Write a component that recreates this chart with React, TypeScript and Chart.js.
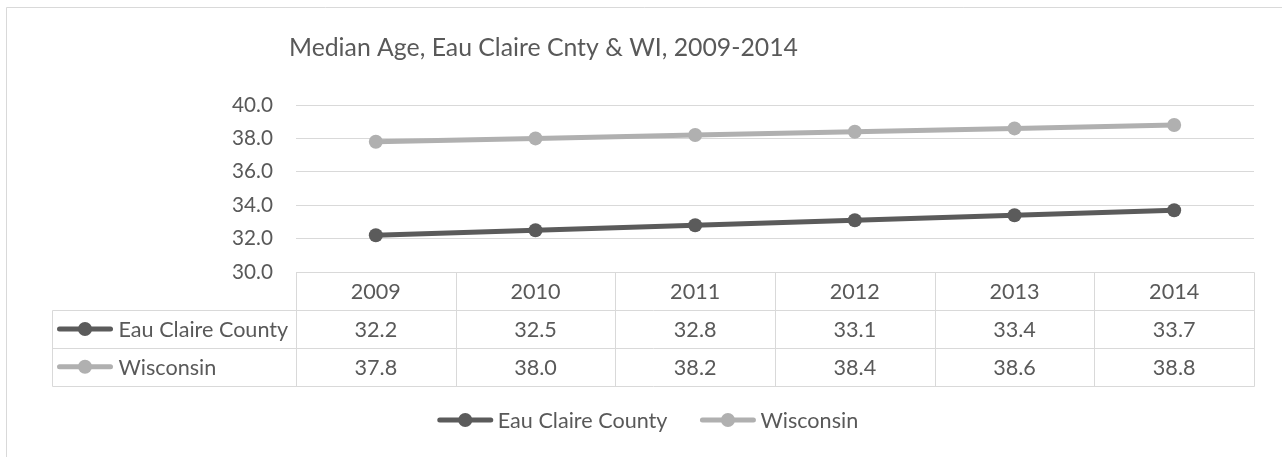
import React, { useEffect, useRef } from "react";
import { Chart, registerables } from "chart.js";

Chart.register(...registerables);

const categories = ["2009", "2010", "2011", "2012", "2013", "2014"];
const eauClaireValues = [32.2, 32.5, 32.8, 33.1, 33.4, 33.7];
const wisconsinValues = [37.8, 38.0, 38.2, 38.4, 38.6, 38.8];
const seriesNames = ["Eau Claire County", "Wisconsin"];
const titleText = "Median Age, Eau Claire Cnty & WI, 2009-2014";
const yMin = 30;
const yMax = 40;
const yStep = 2;

const FAMILY = "Lato";
const TEXT = "#595959";
const GRID = "#d9d9d9";
const DARK = "#5b5b5b";
const LIGHT = "#b0b0b0";
const W = 1282;
const H = 457;

function fitSize(text: string, target: number): number {
  const c = document.createElement("canvas").getContext("2d")!;
  c.font = `100px ${FAMILY}`;
  const w = c.measureText(text).width;
  return Math.round((100 * target) / w * 10) / 10;
}

const TITLE_SIZE = fitSize(titleText, 510);
const LABEL_SIZE = fitSize(seriesNames[0], 170);
const TICK_SIZE = fitSize("40.0", 41);

function drawMarker(ctx: CanvasRenderingContext2D, x0: number, y: number, color: string) {
  ctx.save();
  ctx.strokeStyle = color;
  ctx.fillStyle = color;
  ctx.lineWidth = 5;
  ctx.lineCap = "round";
  ctx.beginPath();
  ctx.moveTo(x0 + 2, y);
  ctx.lineTo(x0 + 53, y);
  ctx.stroke();
  ctx.beginPath();
  ctx.arc(x0 + 27.5, y, 7, 0, Math.PI * 2);
  ctx.fill();
  ctx.restore();
}

const decorPlugin = {
  id: "decor",
  beforeDraw(chart: any) {
    const ctx = chart.ctx as CanvasRenderingContext2D;
    ctx.save();
    ctx.fillStyle = "#ffffff";
    ctx.fillRect(0, 0, chart.width, chart.height);
    ctx.strokeStyle = GRID;
    ctx.lineWidth = 1;
    ctx.beginPath();
    ctx.moveTo(6.5, chart.height);
    ctx.lineTo(6.5, 7.5);
    ctx.lineTo(chart.width, 7.5);
    ctx.stroke();
    ctx.restore();
  },
  afterDraw(chart: any) {
    const ctx = chart.ctx as CanvasRenderingContext2D;
    const area = chart.chartArea;
    const xs = chart.scales.x;
    const n = categories.length;
    const half = (xs.getPixelForValue(1) - xs.getPixelForValue(0)) / 2;
    const top = Math.round(area.bottom) + 0.5;
    const rowH = 37.7;
    const labelLeft = 52.5;
    const L = Math.round(area.left) + 0.5;
    const R = Math.round(area.right) + 0.5;
    ctx.save();
    // title
    ctx.fillStyle = TEXT;
    ctx.font = `${TITLE_SIZE}px ${FAMILY}`;
    ctx.textAlign = "center";
    ctx.textBaseline = "alphabetic";
    ctx.fillText(titleText, 543.5, 56);

    // table lines
    ctx.strokeStyle = GRID;
    ctx.lineWidth = 1;
    ctx.beginPath();
    ctx.moveTo(L, top);
    ctx.lineTo(R, top);
    for (let r = 1; r <= 3; r++) {
      const y = Math.round(top + rowH * r) + 0.5;
      ctx.moveTo(labelLeft, y);
      ctx.lineTo(R, y);
    }
    const bottom = Math.round(top + rowH * 3) + 0.5;
    for (let i = 0; i <= n; i++) {
      const bx = i < n ? Math.round(xs.getPixelForValue(i) - half) + 0.5 : R;
      ctx.moveTo(bx, top);
      ctx.lineTo(bx, bottom);
    }
    ctx.moveTo(labelLeft, Math.round(top + rowH) + 0.5);
    ctx.lineTo(labelLeft, bottom);
    ctx.stroke();

    // table text
    ctx.fillStyle = TEXT;
    ctx.font = `${LABEL_SIZE}px ${FAMILY}`;
    ctx.textBaseline = "middle";
    ctx.textAlign = "center";
    const rowsVals = [eauClaireValues, wisconsinValues];
    for (let i = 0; i < n; i++) {
      const cx = xs.getPixelForValue(i);
      ctx.fillText(categories[i], cx, top + rowH * 0.5 + 1);
      rowsVals.forEach((vals, r) => {
        ctx.fillText(vals[i].toFixed(1), cx, top + rowH * (r + 1.5) + 1);
      });
    }
    const colors = [DARK, LIGHT];
    ctx.textAlign = "left";
    seriesNames.forEach((name, r) => {
      const y = top + rowH * (r + 1.5);
      drawMarker(ctx, labelLeft + 5, y, colors[r]);
      ctx.fillStyle = TEXT;
      ctx.fillText(name, labelLeft + 66, y + 1);
    });

    // bottom legend
    const widths = seriesNames.map((s) => ctx.measureText(s).width);
    const gap = 33;
    const itemW = widths.map((w) => 55 + 5 + w);
    const total = itemW[0] + gap + itemW[1];
    let x = 648 - total / 2;
    const ly = 420;
    seriesNames.forEach((name, r) => {
      drawMarker(ctx, x, ly, colors[r]);
      ctx.fillStyle = TEXT;
      ctx.fillText(name, x + 60, ly + 1);
      x += itemW[r] + gap;
    });
    ctx.restore();
  },
};

export default function App() {
  const ref = useRef<HTMLCanvasElement>(null);
  useEffect(() => {
    if (!ref.current) return;
    const chart = new Chart(ref.current, {
      type: "line",
      data: {
        labels: categories,
        datasets: [
          {
            label: seriesNames[0],
            data: eauClaireValues,
            borderColor: DARK,
            backgroundColor: DARK,
            pointBackgroundColor: DARK,
            borderWidth: 5,
            pointRadius: 7,
            pointBorderWidth: 0,
            tension: 0,
          },
          {
            label: seriesNames[1],
            data: wisconsinValues,
            borderColor: LIGHT,
            backgroundColor: LIGHT,
            pointBackgroundColor: LIGHT,
            borderWidth: 5,
            pointRadius: 7,
            pointBorderWidth: 0,
            tension: 0,
          },
        ],
      },
      options: {
        responsive: false,
        animation: false,
        layout: { padding: { left: 196, right: 28, top: 105, bottom: 185 } },
        plugins: {
          legend: { display: false },
          title: { display: false },
          tooltip: { enabled: false },
        },
        scales: {
          x: { display: false, offset: true },
          y: {
            min: yMin,
            max: yMax,
            ticks: {
              stepSize: yStep,
              padding: 23,
              color: TEXT,
              font: { family: FAMILY, size: TICK_SIZE },
              callback: (v: any) => Number(v).toFixed(1),
            },
            grid: { color: GRID, lineWidth: 1, drawTicks: false },
            border: { display: false },
            afterFit: (s: any) => {
              s.width = 100;
            },
          },
        },
      },
      plugins: [decorPlugin],
    });
    return () => chart.destroy();
  }, []);
  return (
    <div style={{ position: "absolute", left: 0, top: 0, width: W, height: H }}>
      <canvas ref={ref} width={W} height={H} style={{ display: "block" }} />
    </div>
  );
}
